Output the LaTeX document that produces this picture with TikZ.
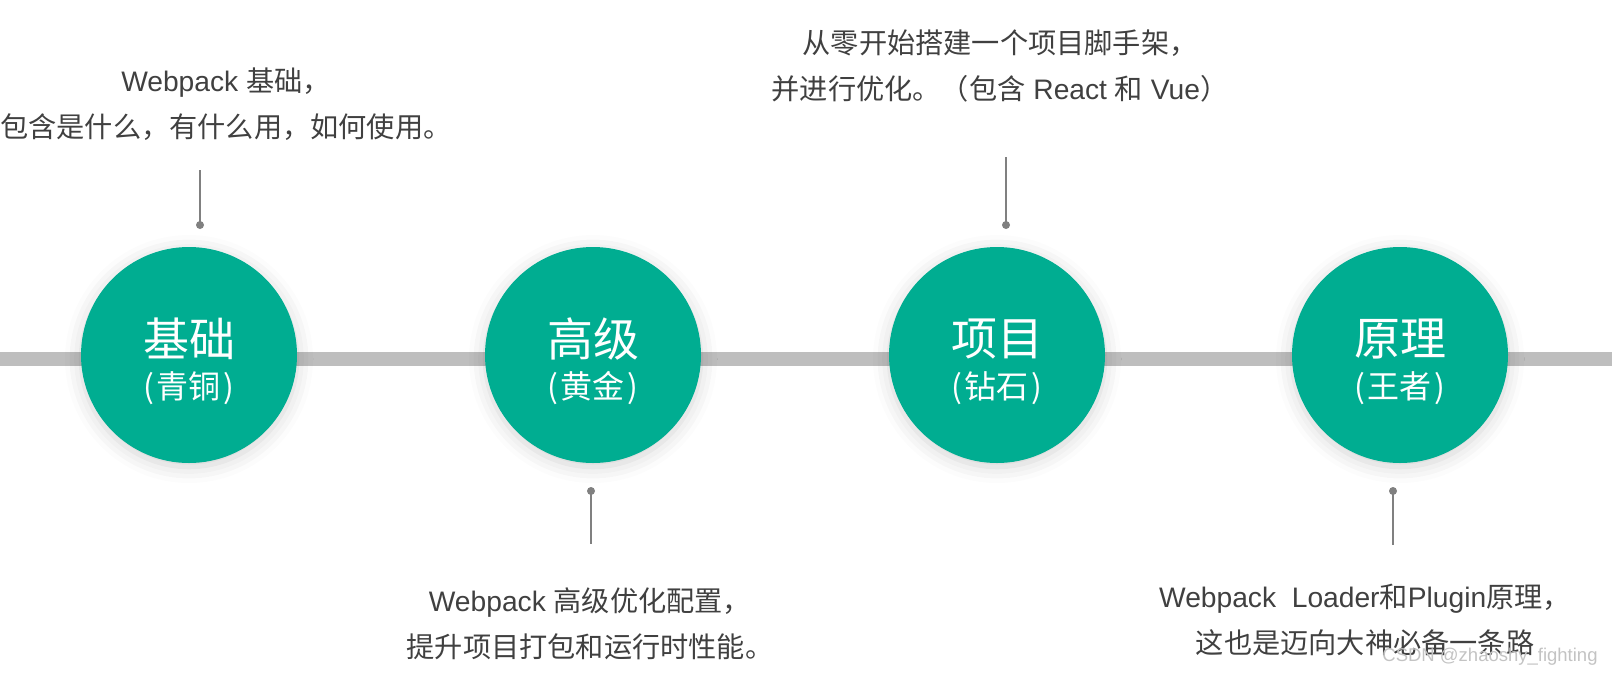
\documentclass[tikz,border=0pt]{standalone}
\usepackage{fontspec}
\setmainfont{Liberation Sans}
\newfontfamily\cjk{Noto Sans CJK SC}
\usepackage{xcolor}
\usetikzlibrary{shadows.blur}
\definecolor{stagegreen}{RGB}{0,173,145}
\definecolor{bargray}{RGB}{190,190,190}
\definecolor{stemgray}{RGB}{128,128,128}
\definecolor{notegray}{RGB}{64,64,64}
\definecolor{markgray}{RGB}{195,195,195}

\begin{document}
\begin{tikzpicture}[x=0.5pt,y=-0.5pt]
    \tikzstyle{stage}=[circle, fill=stagegreen, minimum size=108pt, inner sep=0pt, blur shadow={shadow xshift=0pt, shadow yshift=-2pt, shadow blur radius=8pt, shadow opacity=18}]
    \tikzstyle{stagetitle}=[text=white, inner sep=0pt, font=\fontsize{23}{27}\selectfont\cjk]
    \tikzstyle{stagesub}=[text=white, inner sep=0pt, font=\fontsize{16}{19}\selectfont\cjk]
    \tikzstyle{notetext}=[text=notegray, align=center, inner sep=0pt, font=\fontsize{14.1}{23}\selectfont]
    \tikzstyle{stem}=[stemgray, line width=1pt]
    \useasboundingbox (0,0) rectangle (1612,675);

    \coordinate (L) at (0,359);
    \coordinate (R) at (1612,359);
    \draw [bargray, line width=7pt] (L) -- (R);

	\node [stage] (A) at (189,355) {};
	\node [stagetitle] (At) at ([yshift=8pt]A.center) {基础};
	\node [stagesub] (As) at ([yshift=-16.5pt]A.center) {(\kern1.5pt 青铜\kern1.5pt)};

	\node [stage] (B) at (593,355) {};
	\node [stagetitle] (Bt) at ([yshift=8pt]B.center) {高级};
	\node [stagesub] (Bs) at ([yshift=-16.5pt]B.center) {(\kern1.5pt 黄金\kern1.5pt)};

	\node [stage] (C) at (997,355) {};
	\node [stagetitle] (Ct) at ([yshift=8pt]C.center) {项目};
	\node [stagesub] (Cs) at ([yshift=-16.5pt]C.center) {(\kern1.5pt 钻石\kern1.5pt)};

	\node [stage] (D) at (1400,355) {};
	\node [stagetitle] (Dt) at ([yshift=8pt]D.center) {原理};
	\node [stagesub] (Ds) at ([yshift=-16.5pt]D.center) {(\kern1.5pt 王者\kern1.5pt)};

	\node [notetext] (An) at (226,104.5) {Webpack {\cjk 基础，}\\{\cjk 包含是什么，有什么用，如何使用。}};
	\node [notetext] (Bn) at (590,623.5) {Webpack {\cjk 高级优化配置，}\\{\cjk 提升项目打包和运行时性能。}};
	\node [notetext] (Cn) at (1000,65.5) {{\cjk 从零开始搭建一个项目脚手架，}\\{\cjk 并进行优化。（包含} React {\cjk 和} Vue{\cjk ）}};
	\node [notetext] (Dn) at (1365,619.5) {Webpack\ \ Loader{\cjk 和}Plugin{\cjk 原理，}\\{\cjk 这也是迈向大神必备一条路}};

	\coordinate (A1) at (200,170);
	\coordinate (A2) at (200,225);
	\draw [stem] (A1) -- (A2);
	\fill [stemgray] (A2) circle (2pt);

	\coordinate (B1) at (591,491);
	\coordinate (B2) at (591,544);
	\draw [stem] (B1) -- (B2);
	\fill [stemgray] (B1) circle (2pt);

	\coordinate (C1) at (1006,157);
	\coordinate (C2) at (1006,225);
	\draw [stem] (C1) -- (C2);
	\fill [stemgray] (C2) circle (2pt);

	\coordinate (D1) at (1393,491);
	\coordinate (D2) at (1393,545);
	\draw [stem] (D1) -- (D2);
	\fill [stemgray] (D1) circle (2pt);

	\node [text=markgray, inner sep=0pt, font=\fontsize{9.25}{11}\selectfont] (mark) at (1490,657) {CSDN @zhaoshy\_fighting};
\end{tikzpicture}
\end{document}
